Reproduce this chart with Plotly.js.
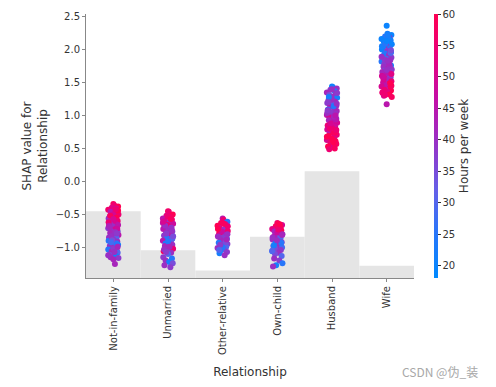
<!DOCTYPE html>
<html>
<head>
<meta charset="utf-8">
<script src="https://cdn.plot.ly/plotly-3.0.1.min.js"></script>
<style>html,body{margin:0;padding:0;background:#fff;}#chart{width:496px;height:387px;}</style>
</head>
<body>
<div id="chart"></div>
<script>
// Categories (x axis)
const categories = ["Not-in-family","Unmarried","Other-relative","Own-child","Husband","Wife"];
// Background histogram bar tops (in SHAP-axis units)
const histTops = [-0.45, -1.045, -1.35, -0.84, 0.156, -1.28];
const yBottom = -1.464;
const yTop = 2.54;

const jitter = [0.00,0.02,0.12,-0.04,0.07,-0.13,0.10,-0.07,0.04,0.13,-0.01,-0.09,0.08,-0.12,0.01,0.11,-0.05,0.06,-0.10,0.12,-0.02,0.09,-0.13,0.03,-0.06,0.11,-0.08,0.05,0.13,-0.03,-0.11,0.08,0.00,-0.12,0.10,-0.06,0.03,0.12,-0.09,0.06,-0.01,-0.13,0.09,-0.04,0.11,0.02,-0.10,0.07,-0.07,0.13,0.00,0.04,-0.12,0.10,-0.05,0.08,0.01,-0.08,0.12,-0.11,0.05,-0.03,0.11,-0.13,0.06,0.00,-0.09,0.09,-0.06,0.03];
const jitterWidth = 0.72;

// SHAP values and Hours per week for each category
const shapNotInFamily = [-0.34,-0.36,-0.38,-0.40,-0.41,-0.43,-0.45,-0.46,-0.48,-0.50,-0.51,-0.53,-0.55,-0.56,-0.58,-0.60,-0.61,-0.63,-0.65,-0.66,-0.68,-0.70,-0.71,-0.73,-0.75,-0.76,-0.78,-0.80,-0.81,-0.83,-0.85,-0.86,-0.88,-0.90,-0.91,-0.93,-0.95,-0.96,-0.98,-1.00,-1.01,-1.03,-1.05,-1.06,-1.08,-1.10,-1.11,-1.13,-1.15,-1.16,-1.18,-1.25,-0.62,-0.72,-0.84,-0.94,-1.02,-0.52,-0.44,-0.67,-0.77,-0.89,-0.99,-1.12,-0.42,-0.57,-0.69,-0.79,-0.92,-1.07];
const hoursNotInFamily = [58,55,60,52,48,56,60,45,50,55,50,45,60,40,48,55,42,50,40,45,40,45,38,50,40,35,42,40,45,38,40,30,38,25,40,42,35,22,40,38,40,25,38,42,30,40,35,20,40,38,42,42,55,48,40,25,38,58,60,45,40,35,42,40,55,50,42,38,28,40];

const shapUnmarried = [-0.45,-0.46,-0.50,-0.52,-0.54,-0.56,-0.58,-0.60,-0.62,-0.64,-0.66,-0.68,-0.70,-0.72,-0.74,-0.76,-0.78,-0.80,-0.82,-0.84,-0.86,-0.88,-0.90,-0.92,-0.94,-0.96,-0.98,-1.00,-1.02,-1.04,-1.06,-1.08,-1.10,-1.15,-1.17,-1.20,-1.22,-1.24,-1.27,-1.30,-0.53,-0.63,-0.71,-0.79,-0.87,-0.95,-1.03,-0.57,-0.67,-0.83,-0.91,-0.99,-0.61,-0.75,-1.07];
const hoursUnmarried = [58,55,60,52,58,45,55,50,40,48,55,42,38,45,40,35,42,50,38,40,25,40,45,38,22,40,42,35,55,38,58,40,30,38,25,40,22,35,40,38,55,45,40,38,30,42,40,58,40,35,25,42,50,40,38];

const shapOtherRelative = [-0.56,-0.58,-0.61,-0.63,-0.65,-0.67,-0.69,-0.71,-0.73,-0.75,-0.77,-0.79,-0.81,-0.83,-0.85,-0.87,-0.89,-0.91,-0.93,-0.95,-0.97,-0.99,-1.01,-1.03,-1.05,-1.07,-1.09,-1.12,-0.68,-0.76,-0.84,-0.92,-1.00,-0.72,-0.88,-0.96,-0.64,-0.80,-1.04];
const hoursOtherRelative = [45,55,25,58,50,60,45,52,40,55,48,58,40,45,38,30,42,40,25,38,22,30,40,35,25,38,22,40,55,48,40,35,25,60,42,38,58,40,30];

const shapOwnChild = [-0.63,-0.64,-0.66,-0.68,-0.70,-0.72,-0.74,-0.76,-0.78,-0.80,-0.82,-0.84,-0.86,-0.88,-0.90,-0.92,-0.94,-0.96,-0.98,-1.00,-1.02,-1.04,-1.06,-1.08,-1.10,-1.13,-1.17,-1.20,-1.24,-1.27,-1.29,-0.69,-0.77,-0.85,-0.93,-1.01,-0.73,-0.81,-0.97,-0.65,-0.89,-1.05];
const hoursOwnChild = [55,60,50,58,45,52,60,42,55,40,38,45,30,40,25,38,22,40,35,28,40,38,25,40,35,30,40,38,25,22,40,58,48,40,25,35,55,42,22,60,40,30];

const shapHusband = [1.44,1.43,1.41,1.39,1.37,1.35,1.33,1.31,1.29,1.27,1.25,1.23,1.21,1.19,1.17,1.15,1.13,1.11,1.09,1.07,1.05,1.03,1.01,0.99,0.97,0.95,0.93,0.91,0.89,0.87,0.85,0.83,0.81,0.79,0.77,0.75,0.73,0.71,0.69,0.67,0.65,0.63,0.61,0.59,0.57,0.55,0.53,0.50,0.49,1.34,1.24,1.14,1.04,0.94,0.84,0.74,0.64,1.28,1.18,1.08,0.98,0.88,0.78,0.68,0.58,1.40,1.20,1.00,0.80,0.60];
const hoursHusband = [20,22,40,38,25,42,40,35,40,22,38,40,42,38,30,40,45,40,25,42,38,40,45,40,50,38,42,45,50,42,55,48,55,50,60,45,58,55,60,52,58,50,60,55,58,52,60,58,55,38,40,25,40,45,52,58,60,22,40,38,42,50,55,60,58,40,38,45,55,60];

const shapWife = [2.36,2.24,2.22,2.20,2.18,2.16,2.14,2.12,2.10,2.08,2.06,2.04,2.02,2.00,1.98,1.96,1.94,1.92,1.90,1.88,1.86,1.84,1.82,1.80,1.78,1.76,1.74,1.72,1.70,1.68,1.66,1.64,1.62,1.60,1.58,1.56,1.54,1.52,1.50,1.48,1.46,1.44,1.42,1.40,1.38,1.36,1.34,1.32,1.30,1.28,1.17,2.15,2.05,1.95,1.85,1.75,1.65,1.55,1.45,1.35,2.19,2.09,1.99,1.89,1.79,1.69,1.59,1.49,1.39,2.23,2.13,1.83,1.63,1.31];
const hoursWife = [20,22,20,25,45,20,22,20,24,20,40,22,25,20,38,22,25,40,22,38,28,40,25,42,38,22,40,45,38,30,42,45,40,50,38,55,42,55,48,60,45,50,58,45,60,52,55,60,50,58,45,20,22,30,38,40,45,50,58,55,22,25,35,40,42,40,48,60,55,22,20,40,52,55];

const shapSeries = [shapNotInFamily, shapUnmarried, shapOtherRelative, shapOwnChild, shapHusband, shapWife];
const hourSeries = [hoursNotInFamily, hoursUnmarried, hoursOtherRelative, hoursOwnChild, hoursHusband, hoursWife];

const colorTicks = [20,25,30,35,40,45,50,55,60];

const colorscale = [
  [0.0, 'rgb(0,138,255)'],
  [0.17, 'rgb(40,118,250)'],
  [0.33, 'rgb(100,96,232)'],
  [0.5, 'rgb(148,52,200)'],
  [0.68, 'rgb(196,14,166)'],
  [0.85, 'rgb(234,0,122)'],
  [1.0, 'rgb(255,0,82)']
];

// Build scatter points
const px = [], py = [], pc = [];
shapSeries.forEach((vals, ci) => {
  vals.forEach((v, i) => {
    px.push(ci + jitterWidth * jitter[i % jitter.length]);
    py.push(v);
    pc.push(hourSeries[ci][i]);
  });
});

const barTrace = {
  type: 'bar',
  x: categories.map((_, i) => i),
  y: histTops.map(t => t - yBottom),
  base: yBottom,
  width: 1,
  marker: {color: '#e5e5e5', line: {width: 0}},
  hoverinfo: 'skip',
  showlegend: false
};

const scatterTrace = {
  type: 'scatter',
  mode: 'markers',
  x: px, y: py,
  marker: {
    size: 6,
    color: pc,
    cmin: 18, cmax: 60,
    colorscale: colorscale,
    line: {width: 0},
    colorbar: {
      x: 1.061, xanchor: 'left', xref: 'paper', xpad: 0, ypad: 0,
      y: 0.5, yanchor: 'middle', len: 1, lenmode: 'fraction',
      thickness: 4, outlinewidth: 0,
      tickvals: colorTicks, ticks: 'outside', ticklen: 3, tickcolor: '#333',
      tickfont: {size: 10, color: '#333', family: 'DejaVu Sans'},
      title: {text: 'Hours per week', side: 'right', font: {size: 12, color: '#333', family: 'DejaVu Sans'}}
    }
  },
  showlegend: false
};

const layout = {
  width: 496, height: 387,
  margin: {l: 86, r: 82, t: 14, b: 109},
  paper_bgcolor: '#ffffff', plot_bgcolor: '#ffffff',
  font: {family: 'DejaVu Sans', color: '#333', size: 10},
  xaxis: {
    range: [-0.5, 5.5], tickvals: categories.map((_, i) => i), ticktext: categories,
    tickangle: -90, showgrid: false, zeroline: false,
    showline: true, linecolor: '#888', linewidth: 1,
    ticks: 'outside', ticklen: 3, tickcolor: '#888',
    tickfont: {size: 10, color: '#333'},
    title: {text: 'Relationship', font: {size: 12, color: '#333'}, standoff: 13}
  },
  yaxis: {
    range: [yBottom, yTop], tickvals: [-1.0,-0.5,0.0,0.5,1.0,1.5,2.0,2.5],
    ticktext: ['\u22121.0','\u22120.5','0.0','0.5','1.0','1.5','2.0','2.5'],
    showgrid: false, zeroline: false,
    showline: true, linecolor: '#888', linewidth: 1,
    ticks: 'outside', ticklen: 3, tickcolor: '#888',
    tickfont: {size: 10, color: '#333'},
    title: {text: 'SHAP value for<br>Relationship', font: {size: 12, color: '#333'}, standoff: 5}
  },
  annotations: [{
    text: 'CSDN @伪_装', xref: 'paper', yref: 'paper', x: 1.2, y: -0.355,
    xanchor: 'right', yanchor: 'middle', showarrow: false,
    font: {size: 12, color: '#a8a8a8', family: 'Noto Sans CJK SC'}
  }]
};

Plotly.newPlot('chart', [barTrace, scatterTrace], layout, {displayModeBar: false, staticPlot: true});
</script>
</body>
</html>
